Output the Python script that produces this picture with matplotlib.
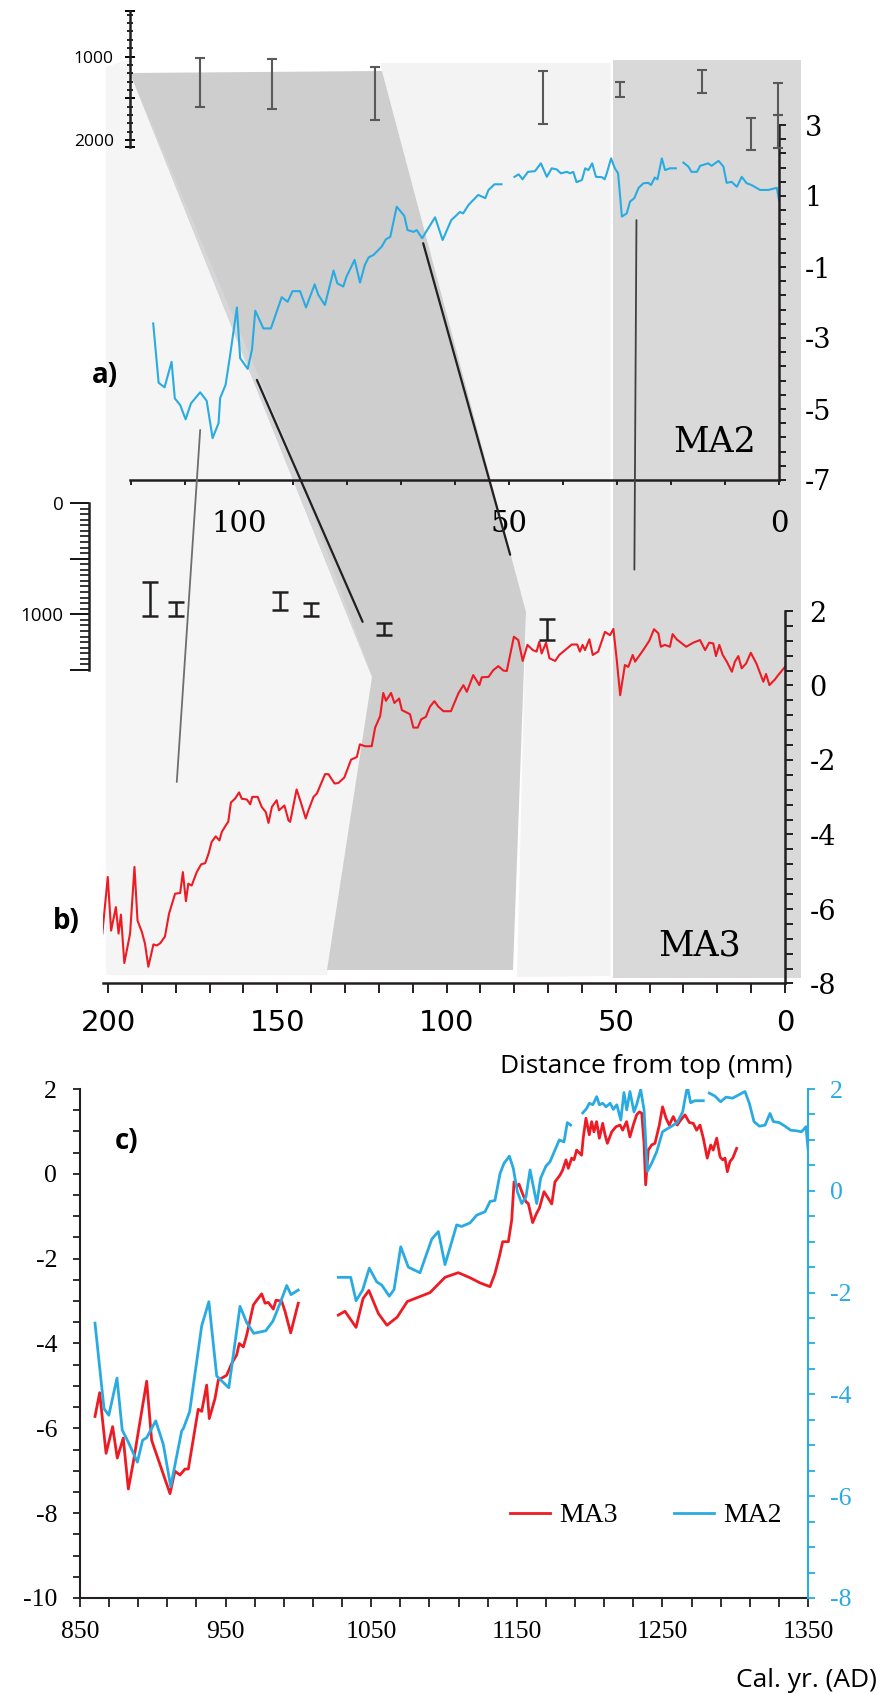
import numpy as np
import matplotlib
matplotlib.use("Agg")
import matplotlib.pyplot as plt
from matplotlib.patches import Polygon, ConnectionPatch
from matplotlib.ticker import FixedLocator, NullLocator

nan = np.nan

# ---- panel a: MA2 d18O vs distance from top (mm)
ma2_depth = [115.9, 114.9, 113.8, 112.5, 111.9, 110.9, 109.9, 108.9, 107.2, 106.0,
             104.9, 103.8, 103.5, 102.5, 101.7, 100.4, 99.8, 98.4, 97.6, 97.0,
             95.5, 94.1, 92.1, 91.0, 90.1, 88.7, 87.6, 86.0, 85.3, 84.1,
             82.5, 81.8, 80.7, 80.1, 78.6, 77.6, 76.7, 76.0, 75.1, 73.6,
             72.8, 72.0, 70.8, 69.4, 68.8, 67.7, 67.1, 66.1, 63.7, 62.3,
             60.7, 59.1, 58.5, 57.5, 55.7, 54.4, 53.8, 52.7, 51.4, nan,
             49.0, 48.2, 47.5, 46.5, 45.2, 44.1, 43.0, 42.1, 41.2, 40.4,
             39.3, 38.7, 38.1, 37.5, 36.5, 35.9, 35.3, 34.6, 33.9, 32.8,
             32.3, 31.9, 31.1, 30.4, 29.8, 29.1, 28.2, 27.6, 26.8, 26.0,
             25.1, 24.2, 23.7, 23.0, 22.5, 21.7, 21.1, 20.2, 19.1, nan,
             17.7, 16.8, 16.2, 15.2, 14.6, 13.1, 12.5, 11.2, 10.3, 9.7,
             8.8, 7.8, 6.9, 6.0, 5.1, 3.5, 2.0, 0.4, 0.0]
ma2_d18o = [-2.59, -4.26, -4.39, -3.67, -4.70, -4.89, -5.29, -4.84, -4.53, -4.77,
            -5.82, -5.40, -4.69, -4.32, -3.53, -2.14, -3.57, -3.87, -3.32, -2.23,
            -2.73, -2.73, -1.85, -1.98, -1.68, -1.68, -2.14, -1.49, -1.79, -2.07,
            -1.10, -1.46, -1.55, -1.27, -0.80, -1.44, -0.94, -0.73, -0.66, -0.43,
            -0.22, -0.15, 0.70, 0.44, 0.04, -0.01, 0.04, -0.19, 0.40, -0.24,
            0.32, 0.55, 0.51, 0.75, 1.03, 0.94, 1.17, 1.33, 1.33, nan,
            1.54, 1.61, 1.47, 1.68, 1.70, 1.92, 1.54, 1.78, 1.75, 1.64,
            1.68, 1.64, 1.68, 1.39, 1.45, 1.78, 1.73, 1.92, 1.54, 1.53,
            1.47, 1.64, 2.06, 1.78, 1.64, 0.42, 0.51, 0.84, 0.94, 1.23,
            1.36, 1.37, 1.31, 1.52, 1.47, 2.06, 1.73, 1.78, 1.78, nan,
            1.94, 1.83, 1.68, 1.68, 1.85, 1.92, 1.85, 1.99, 1.83, 1.37,
            1.40, 1.26, 1.54, 1.36, 1.31, 1.17, 1.17, 1.23, 0.89]

# U-Th ages for MA2 (yr), low / high ends of each bar
ma2_age_depth = [107.2, 93.9, 74.8, 43.7, 29.4, 14.3, 5.2, 0.2, 0.2]
ma2_age_lo = [1018, 1030, 1126, 1174, 1305, 1162, 1737, 1317, 1701]
ma2_age_hi = [1605, 1629, 1760, 1808, 1485, 1437, 2120, 1701, 2096]

# ---- panel b: MA3 d18O vs distance from top (mm)
ma3_depth = [201.7, 200.1, 199.1, 197.7, 196.9, 196.2, 195.2, 193.5, 192.2, 191.3,
             190.0, 189.1, 188.1, 186.6, 185.6, 184.6, 183.2, 182.0, 180.2, 178.7,
             177.9, 177.0, 176.3, 175.3, 173.8, 172.5, 171.3, 170.3, 169.4, 168.2,
             167.1, 166.4, 164.9, 164.5, 163.7, 162.5, 161.3, 160.5, 159.0, 158.0,
             157.4, 155.8, 154.6, 153.4, 152.6, 151.6, 150.2, 149.5, 147.9, 146.7,
             146.2, 144.3, 143.0, 141.6, 140.8, 139.3, 138.3, 135.9, 134.9, 133.1,
             132.0, 130.2, 128.2, 126.5, 125.6, 124.1, 122.1, 121.1, 119.6, 118.7,
             117.9, 116.4, 115.4, 114.0, 113.2, 110.8, 109.8, 108.5, 107.5, 106.1,
             104.9, 103.6, 102.4, 100.9, 98.7, 96.5, 95.0, 94.0, 92.1, 90.3,
             89.6, 87.6, 86.2, 84.7, 83.2, 82.2, 80.1, 78.8, 77.5, 76.1,
             74.5, 73.4, 72.6, 71.9, 70.6, 69.6, 67.9, 66.7, 64.7, 63.0,
             61.4, 60.6, 59.8, 59.1, 57.8, 56.8, 55.2, 53.2, 51.7, 50.7,
             49.7, 48.7, 47.3, 46.3, 45.0, 44.3, 41.9, 40.1, 38.7, 37.4,
             36.7, 35.5, 34.0, 33.2, 32.0, 29.2, 27.1, 25.1, 23.6, 22.4,
             21.2, 20.4, 19.4, 18.4, 17.2, 15.7, 14.8, 13.8, 12.8, 11.5,
             10.1, 8.4, 6.4, 5.6, 4.6, 3.0, 2.0, 0.0]
ma3_d18o = [-6.66, -5.14, -6.58, -5.95, -6.66, -6.15, -7.45, -6.66, -4.87, -6.31,
            -6.62, -6.93, -7.55, -6.95, -6.98, -6.92, -6.74, -6.13, -5.59, -5.57,
            -5.01, -5.79, -5.32, -5.37, -5.01, -4.80, -4.77, -4.51, -4.20, -4.05,
            -4.16, -3.93, -3.71, -3.66, -3.14, -3.04, -2.87, -3.04, -3.06, -3.19,
            -2.99, -2.99, -3.26, -3.40, -3.69, -3.26, -3.08, -3.35, -3.22, -3.62,
            -3.66, -2.79, -3.15, -3.57, -3.35, -2.99, -2.90, -2.38, -2.38, -2.63,
            -2.62, -2.47, -1.99, -1.92, -1.58, -1.63, -1.63, -1.13, -0.82, -0.20,
            -0.41, -0.20, -0.47, -0.35, -0.66, -0.77, -1.13, -1.13, -0.91, -0.84,
            -0.57, -0.42, -0.57, -0.69, -0.69, -0.21, 0.01, -0.17, 0.28, 0.01,
            0.22, 0.23, 0.41, 0.52, 0.40, 0.39, 1.31, 1.22, 0.66, 1.09,
            0.95, 0.91, 1.17, 0.86, 1.15, 0.73, 0.66, 0.82, 0.97, 1.10,
            1.10, 0.91, 1.09, 0.95, 1.24, 0.82, 0.91, 1.44, 1.35, 1.52,
            0.68, -0.26, 0.55, 0.50, 0.82, 0.64, 0.95, 1.20, 1.51, 1.40,
            1.04, 1.09, 1.04, 1.38, 1.24, 1.04, 1.15, 1.22, 0.95, 1.15,
            1.13, 0.79, 1.09, 0.82, 0.64, 0.37, 0.64, 0.79, 0.46, 0.59,
            0.88, 0.58, 0.10, 0.31, 0.01, 0.16, 0.28, 0.50]

ma3_age_depth = [187.6, 179.9, 149.2, 140.0, 118.5, 70.3]
ma3_age_lo = [712, 886, 797, 901, 1081, 1039]
ma3_age_hi = [1014, 1014, 959, 1018, 1189, 1228]

# tie points between the two records: (depth a, value a, depth b, value b)
tie_a_depth = [107.2, 96.7, 65.9, 26.4]
tie_a_val = [-5.59, -4.18, -0.33, 0.32]
tie_b_depth = [179.7, 124.8, 81.2, 44.5]
tie_b_val = [-2.59, 1.71, 3.51, 3.11]

# ---- panel c: both records on the calendar scale
c_ma3_year = [860.3, 863.5, 867.9, 872.4, 875.6, 879.7, 883.2, 886.6, 895.8, 899.2,
              911.8, 915.2, 918.7, 922.1, 924.4, 931.2, 933.6, 937.0, 938.8, 942.7,
              945.0, 950.7, 954.2, 957.6, 959.4, 962.2, 964.5, 969.1, 971.4, 974.8,
              977.1, 979.3, 982.8, 984.6, 988.5, 990.8, 994.7, 999.9, nan,
              1027.4, 1032.0, 1039.6, 1044.4, 1048.4, 1054.9, 1060.8, 1067.8, 1074.8, 1090.4,
              1100.7, 1109.8, 1117.9, 1124.7, 1131.6, 1135.0, 1138.0, 1140.3, 1144.2, 1146.5,
              1148.1, 1149.9, 1151.5, 1153.4, 1156.3, 1157.9, 1160.9, 1163.6, 1165.5, 1168.7,
              1172.3, 1174.0, 1176.2, 1179.7, 1181.5, 1183.8, 1185.4, 1187.7, 1189.3, 1191.1,
              1193.4, 1194.5, 1195.6, 1197.5, 1199.8, 1201.4, 1203.0, 1204.8, 1206.7, 1209.0,
              1210.6, 1212.2, 1215.2, 1218.1, 1220.9, 1222.7, 1225.4, 1227.7, 1230.0, 1232.3,
              1234.1, 1235.8, 1237.4, 1238.5, 1240.3, 1242.6, 1244.9, 1247.9, 1250.1, 1252.5,
              1254.7, 1257.5, 1260.2, 1262.6, 1265.5, 1268.5, 1271.2, 1273.5, 1275.8, 1278.1,
              1280.8, 1283.2, 1284.9, 1287.3, 1289.6, 1291.4, 1293.0, 1294.6, 1296.4, 1298.3,
              1301.0]
c_ma3_d18o = [-5.72, -5.16, -6.59, -5.96, -6.70, -6.23, -7.43, -6.80, -4.89, -6.28,
              -7.54, -7.01, -7.10, -6.96, -6.96, -5.55, -5.60, -4.98, -5.77, -5.30,
              -4.86, -4.75, -4.47, -4.27, -4.00, -4.08, -3.80, -3.09, -2.98, -2.83,
              -3.05, -3.03, -3.19, -2.98, -3.00, -3.24, -3.75, -3.05, nan,
              -3.33, -3.24, -3.62, -2.94, -2.75, -3.29, -3.57, -3.38, -3.01, -2.80,
              -2.44, -2.33, -2.45, -2.57, -2.66, -2.35, -1.95, -1.60, -1.60, -1.09,
              -0.19, -0.30, -0.24, -0.42, -0.66, -0.70, -1.15, -0.93, -0.81, -0.42,
              -0.62, -0.71, -0.19, -0.03, 0.09, 0.33, 0.13, 0.37, 0.33, 0.56,
              0.48, 0.44, 0.84, 1.31, 0.92, 1.23, 0.99, 1.23, 0.84, 1.19,
              0.92, 0.72, 0.99, 1.11, 1.15, 1.03, 1.23, 0.87, 1.15, 1.39,
              1.46, 1.43, 0.72, -0.26, 0.56, 0.68, 0.72, 1.15, 1.58, 1.31,
              1.15, 1.35, 1.15, 1.27, 1.39, 1.21, 1.19, 1.03, 1.15, 0.84,
              0.37, 0.68, 0.56, 0.84, 0.40, 0.33, 0.37, 0.05, 0.29, 0.37,
              0.60]

c_ma2_year = [860.3, 866.5, 869.8, 875.4, 879.0, 883.2, 889.4, 893.0, 895.8, 902.0,
              907.2, 912.3, 919.8, 921.0, 925.3, 933.6, 938.5, 943.9, 952.2, 959.9,
              964.5, 969.3, 977.6, 982.5, 987.4, 992.0, 994.9, 999.9, nan,
              1027.4, 1035.9, 1039.6, 1044.1, 1048.7, 1053.8, 1057.2, 1062.4, 1065.7, 1070.3,
              1075.5, 1083.5, 1091.6, 1096.1, 1100.7, 1108.7, 1112.1, 1117.9, 1122.4, 1128.2,
              1131.6, 1135.0, 1138.5, 1141.2, 1144.9, 1147.6, 1150.4, 1153.4, 1156.3, 1159.1,
              1160.9, 1163.7, 1166.4, 1170.1, 1172.8, 1176.2, 1179.2, 1182.4, 1184.7, 1187.0,
              nan,
              1195.3, 1198.0, 1199.8, 1202.2, 1204.9, 1206.7, 1209.0, 1211.3, 1214.1, 1216.3,
              1218.7, 1221.4, 1223.6, 1225.5, 1227.7, 1230.5, 1232.3, 1235.1, 1237.4, 1239.6,
              1242.6, 1246.1, 1250.1, 1254.0, 1257.5, 1260.2, 1263.9, 1267.1, 1269.4, 1272.3,
              1278.1, nan,
              1282.2, 1286.1, 1290.0, 1293.7, 1298.2, 1302.1, 1306.7, 1309.7, 1312.9, 1316.6,
              1320.5, 1323.9, 1326.2, 1330.3, 1334.2, 1338.1, 1341.8, 1345.6, 1348.6, 1350.0]
c_ma2_d18o = [-2.60, -4.28, -4.41, -3.68, -4.70, -4.94, -5.33, -4.90, -4.85, -4.52,
              -4.98, -5.81, -4.72, -4.67, -4.34, -2.65, -2.18, -3.64, -3.87, -2.27,
              -2.59, -2.80, -2.75, -2.56, -2.21, -1.86, -2.04, -1.95, nan,
              -1.70, -1.70, -2.16, -1.95, -1.52, -1.79, -1.85, -2.07, -1.94, -1.10,
              -1.50, -1.61, -0.95, -0.80, -1.45, -0.67, -0.70, -0.63, -0.48, -0.41,
              -0.21, -0.19, 0.34, 0.54, 0.68, 0.44, -0.02, -0.25, -0.12, 0.41,
              0.15, -0.25, 0.25, 0.49, 0.57, 0.80, 1.00, 0.96, 1.34, 1.29,
              nan,
              1.53, 1.62, 1.72, 1.69, 1.85, 1.69, 1.72, 1.65, 1.72, 1.60,
              1.69, 1.39, 1.93, 1.59, 1.95, 1.55, 1.69, 1.99, 1.59, 0.38,
              0.54, 0.77, 1.16, 1.23, 1.29, 1.34, 1.55, 2.05, 1.73, 1.77,
              1.77, nan,
              1.92, 1.86, 1.75, 1.84, 1.82, 1.88, 1.95, 1.72, 1.36, 1.27,
              1.29, 1.52, 1.36, 1.34, 1.27, 1.19, 1.18, 1.16, 1.26, 0.83]

# ---- layout (pixels) -----------------------------------------------------
W, H, DPI = 884, 1694, 100
BLUE = "#29abe2"
RED = "#ed1c24"
INK = "#231f20"

# shaded correlation zones behind panels a and b (figure pixels)
zone_light_left = [(106, 67), (130, 59), (130, 73), (372, 677), (327, 975), (106, 975)]
zone_band = [(380, 63), (610.5, 63), (610.5, 976), (517, 977), (526, 612), (382, 71)]
zone_right = [(612.5, 60), (801, 60), (801, 978), (612.5, 978)]
zone_dark = [(130, 73), (382, 71), (526, 612), (513, 970), (327, 970), (372, 677)]
zone_wedge = [(130, 73), (290, 450), (372, 677)]

plt.rcParams["axes.unicode_minus"] = False

fig = plt.figure(figsize=(W / DPI, H / DPI), dpi=DPI)


def px_axes(x0, y0, x1, y1):
    ax = fig.add_axes([x0 / W, 1 - y1 / H, (x1 - x0) / W, (y1 - y0) / H])
    ax.patch.set_alpha(0)
    return ax


def pt(px):
    return px * 72.0 / DPI


def only_spines(ax, keep, lw, color=INK):
    for s in ["left", "right", "top", "bottom"]:
        ax.spines[s].set_visible(s in keep)
        ax.spines[s].set_linewidth(lw)
        ax.spines[s].set_color(color)


bg = px_axes(0, 0, W, H)
bg.set_xlim(0, W)
bg.set_ylim(H, 0)
bg.axis("off")
bg.set_zorder(-5)
for verts, col in [(zone_light_left, "#f4f5f4"), (zone_band, "#f3f3f3"),
                   (zone_right, "#d9d9d9"), (zone_dark, "#cecece"),
                   (zone_wedge, "#d5d6d8")]:
    bg.add_patch(Polygon(verts, closed=True, fc=col, ec="none"))

SERIF = "DejaVu Serif"
SANS = "Open Sans"

# ---- panel a
ax_a = px_axes(130, 125, 779, 480)
ax_a.set_xlim(120.2, 0)
ax_a.set_ylim(-7, 3)
ax_a.plot(ma2_depth, ma2_d18o, color=BLUE, lw=1.5)
only_spines(ax_a, ["bottom", "right"], 1.8)
ax_a.yaxis.tick_right()
ax_a.yaxis.set_major_locator(FixedLocator([-7, -5, -3, -1, 1, 3]))
ax_a.yaxis.set_minor_locator(FixedLocator(np.round(-7 + 0.4 * np.arange(26), 2)))
ax_a.xaxis.set_major_locator(FixedLocator([0, 50, 100]))
ax_a.xaxis.set_minor_locator(FixedLocator(np.arange(0, 121, 10)))
ax_a.tick_params(axis="y", which="both", direction="out", length=pt(7), width=1.4, color=INK,
                 labelsize=19.5, pad=13.5)
ax_a.tick_params(axis="x", which="both", direction="out", length=pt(5), width=1.4, color=INK,
                 labelsize=21, pad=18)
for lab in ax_a.get_xticklabels() + ax_a.get_yticklabels():
    lab.set_family(SERIF)

# ages of panel a
ax_aa = px_axes(130, 11, 779, 147)
ax_aa.set_xlim(120.2, 0)
ax_aa.set_ylim(2084, 455)
mid = [(lo + hi) / 2 for lo, hi in zip(ma2_age_lo, ma2_age_hi)]
half = [(hi - lo) / 2 for lo, hi in zip(ma2_age_lo, ma2_age_hi)]
ax_aa.errorbar(ma2_age_depth, mid, yerr=half, fmt="none", ecolor="#58595b",
               elinewidth=1.5, capsize=3.6, capthick=1.5, clip_on=False)
only_spines(ax_aa, ["left"], 1.8)
ax_aa.xaxis.set_major_locator(NullLocator())
ax_aa.yaxis.set_major_locator(FixedLocator([455, 1000, 1500, 2000, 2084]))
ax_aa.yaxis.set_major_formatter(plt.FixedFormatter(["", "1000", "", "2000", ""]))
ax_aa.yaxis.set_minor_locator(FixedLocator(np.arange(500, 2001, 100)))
ax_aa.tick_params(axis="y", which="major", direction="inout", length=pt(10), width=1.4,
                  labelsize=12.5, pad=8)
ax_aa.tick_params(axis="y", which="minor", direction="inout", length=pt(6), width=1.2)
for lab in ax_aa.get_yticklabels():
    lab.set_family(SANS)

# ---- panel b
ax_b = px_axes(103, 611, 785, 983.5)
ax_b.set_xlim(201.5, 0)
ax_b.set_ylim(-8, 2)
ax_b.plot(ma3_depth, ma3_d18o, color=RED, lw=1.5)
only_spines(ax_b, ["bottom", "right"], 1.8)
ax_b.yaxis.tick_right()
ax_b.yaxis.set_major_locator(FixedLocator([-8, -6, -4, -2, 0, 2]))
ax_b.yaxis.set_minor_locator(FixedLocator(np.round(2 - 0.4 * np.arange(26), 2)))
ax_b.xaxis.set_major_locator(FixedLocator([0, 50, 100, 150, 200]))
ax_b.xaxis.set_minor_locator(FixedLocator(np.arange(0, 201, 10)))
ax_b.tick_params(axis="y", which="both", direction="out", length=pt(8), width=1.4, color=INK,
                 labelsize=19.5, pad=12)
ax_b.tick_params(axis="x", which="both", direction="out", length=pt(10), width=1.4, color=INK,
                 labelsize=21, pad=11)
for lab in ax_b.get_yticklabels():
    lab.set_family(SERIF)
for lab in ax_b.get_xticklabels():
    lab.set_family("DejaVu Sans")

# ages of panel b
ax_ba = px_axes(89, 503, 785, 670)
ax_ba.set_xlim((785 - 89) / 3.385, 0)
ax_ba.set_ylim(1500, 0)
mid = [(lo + hi) / 2 for lo, hi in zip(ma3_age_lo, ma3_age_hi)]
half = [(hi - lo) / 2 for lo, hi in zip(ma3_age_lo, ma3_age_hi)]
ax_ba.errorbar(ma3_age_depth, mid, yerr=half, fmt="none", ecolor=INK,
               elinewidth=1.8, capsize=5.5, capthick=1.8, clip_on=False)
only_spines(ax_ba, ["left"], 1.8)
ax_ba.xaxis.set_major_locator(NullLocator())
ax_ba.yaxis.set_major_locator(FixedLocator([0, 500, 1000, 1500]))
ax_ba.yaxis.set_major_formatter(plt.FixedFormatter(["0", "", "1000", ""]))
ax_ba.yaxis.set_minor_locator(FixedLocator(np.arange(0, 1501, 50)))
ax_ba.tick_params(axis="y", which="major", direction="out", length=pt(19), width=1.3,
                  labelsize=13.5, pad=4.5)
ax_ba.tick_params(axis="y", which="minor", direction="out", length=pt(9), width=1.1)
for lab in ax_ba.get_yticklabels():
    lab.set_family(SANS)

# tie lines between the two records
tie_colors = ["#6d6e71", INK, INK, "#414042"]
tie_widths = [1.3, 1.6, 1.6, 1.3]
for i in range(len(tie_a_depth)):
    con = ConnectionPatch(xyA=(tie_a_depth[i], tie_a_val[i]), coordsA=ax_a.transData,
                          xyB=(tie_b_depth[i], tie_b_val[i]), coordsB=ax_b.transData,
                          color=tie_colors[i], lw=tie_widths[i])
    fig.add_artist(con)

# ---- panel c
ax_c = px_axes(80, 1089, 808, 1598)
ax_c.set_xlim(850, 1350)
ax_c.set_ylim(-10, 2)
l3, = ax_c.plot(c_ma3_year, c_ma3_d18o, color=RED, lw=2)
only_spines(ax_c, ["left", "bottom"], 1.5)
ax_c.xaxis.set_major_locator(FixedLocator(np.arange(850, 1351, 100)))
ax_c.xaxis.set_minor_locator(FixedLocator(np.arange(850, 1351, 20)))
ax_c.yaxis.set_major_locator(FixedLocator(np.arange(-10, 2.1, 2)))
ax_c.yaxis.set_minor_locator(FixedLocator(np.arange(-10, 2.1, 0.5)))
ax_c.tick_params(axis="y", which="both", direction="out", length=pt(7), width=1.3, color=INK,
                 labelsize=18.5, pad=11.5)
ax_c.tick_params(axis="x", which="both", direction="out", length=pt(9), width=1.3, color=INK,
                 labelsize=18.5, pad=10)

ax_c2 = ax_c.twinx()
ax_c2.patch.set_alpha(0)
ax_c2.set_ylim(-8, 2)
l2, = ax_c2.plot(c_ma2_year, c_ma2_d18o, color=BLUE, lw=2)
only_spines(ax_c2, ["right"], 1.5, BLUE)
ax_c2.yaxis.set_major_locator(FixedLocator(np.arange(-8, 2.1, 2)))
ax_c2.yaxis.set_minor_locator(FixedLocator(np.arange(-8, 2.1, 0.5)))
ax_c2.tick_params(axis="y", which="both", direction="out", length=pt(7), width=1.3, color=BLUE,
                  labelcolor=BLUE, labelsize=18.5, pad=10.5)
for lab in ax_c.get_xticklabels() + ax_c.get_yticklabels() + ax_c2.get_yticklabels():
    lab.set_family("Liberation Serif")

leg = ax_c.legend([l3, l2], ["MA3", "MA2"], ncol=2, frameon=False, loc="center left",
                  bbox_to_anchor=(0.59, 0.162), borderpad=0, borderaxespad=0,
                  handlelength=1.45, handletextpad=0.35, columnspacing=2.0,
                  prop={"family": "Liberation Serif", "size": 20})

# ---- texts


def ftext(x, y, s, **kw):
    fig.text(x / W, 1 - y / H, s, **kw)


ftext(715, 451.7, "MA2", ha="center", va="baseline", family=SERIF, fontsize=25)
ftext(700, 955.3, "MA3", ha="center", va="baseline", family=SERIF, fontsize=25)
ftext(92, 383, "a)", ha="left", va="baseline", family=SANS, weight="bold", fontsize=20)
ftext(53, 929, "b)", ha="left", va="baseline", family=SANS, weight="bold", fontsize=20)
ftext(115, 1149, "c)", ha="left", va="baseline", family=SANS, weight="bold", fontsize=20)
ftext(792, 1073, "Distance from top (mm)", ha="right", va="baseline", family=SANS, fontsize=19)
ftext(877, 1686.7, "Cal. yr. (AD)", ha="right", va="baseline", family=SANS, fontsize=19)

fig.savefig("out.png", dpi=DPI)
